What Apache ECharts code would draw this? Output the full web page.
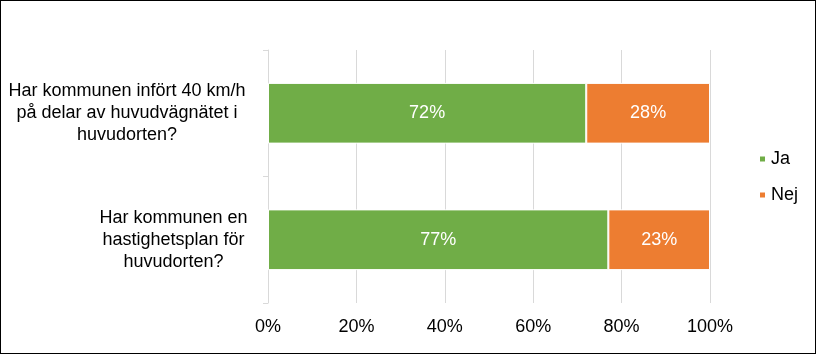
<!DOCTYPE html>
<html>
<head>
<meta charset="utf-8">
<script src="https://cdn.jsdelivr.net/npm/echarts@6/dist/echarts.min.js"></script>
<style>
  html, body { margin: 0; padding: 0; background: #fff; }
  #wrap { position: relative; width: 816px; height: 354px; }
  #chart { width: 816px; height: 354px; }
  #frame { position: absolute; left: 0; top: 0; width: 816px; height: 354px; box-sizing: border-box; border: 1px solid #000; pointer-events: none; }
</style>
</head>
<body>
<div id="wrap">
  <div id="chart"></div>
  <div id="frame"></div>
</div>
<script>
const categories = [
  'Har kommunen infört 40 km/h\npå delar av huvudvägnätet i\nhuvudorten?',
  'Har kommunen en\nhastighetsplan för\nhuvudorten?'
]
const jaValues = [72, 77]
const nejValues = [28, 23]
const seriesNames = ['Ja', 'Nej']
const xTicks = { min: 0, max: 100, interval: 20 }

const font = '"Liberation Sans", Arial, sans-serif'
const chart = echarts.init(document.getElementById('chart'))

function barSeries(name, values, color) {
  return {
    name,
    type: 'bar',
    stack: 'total',
    data: values,
    barWidth: '48%',
    itemStyle: { color, borderColor: '#fff', borderWidth: 1 },
    label: {
      show: true,
      position: 'inside',
      formatter: '{c}%',
      color: '#fff',
      fontFamily: font,
      fontSize: 18,
    },
  }
}

chart.setOption({
  backgroundColor: '#fff',
  animation: false,
  grid: { left: 268, right: 106, top: 50, bottom: 51 },
  legend: {
    orient: 'vertical',
    left: 753,
    top: 145,
    icon: 'rect',
    itemWidth: 7,
    itemHeight: 7,
    itemGap: 18,
    data: seriesNames,
    textStyle: { color: '#000', fontFamily: font, fontSize: 18 },
  },
  xAxis: {
    type: 'value',
    min: xTicks.min,
    max: xTicks.max,
    interval: xTicks.interval,
    axisLine: { show: false },
    axisTick: { show: false },
    splitLine: { lineStyle: { color: '#d9d9d9', width: 1 } },
    axisLabel: {
      formatter: '{value}%',
      color: '#000',
      fontFamily: font,
      fontSize: 18,
      margin: 15,
    },
  },
  yAxis: {
    type: 'category',
    data: categories,
    inverse: true,
    axisLine: { show: true, lineStyle: { color: '#d9d9d9', width: 1 } },
    axisTick: { show: true, length: 5, lineStyle: { color: '#d9d9d9' } },
    axisLabel: {
      align: 'right',
      margin: 18,
      formatter: (value, index) =>
        value.split('\n').map((line) => `{c${index}|${line}}`).join('\n'),
      rich: {
        c0: { width: 246, align: 'center', color: '#000', fontFamily: font, fontSize: 18, lineHeight: 22 },
        c1: { width: 153, align: 'center', color: '#000', fontFamily: font, fontSize: 18, lineHeight: 22 },
      },
    },
  },
  series: [
    barSeries(seriesNames[0], jaValues, '#70ad47'),
    barSeries(seriesNames[1], nejValues, '#ed7d31'),
  ],
})
</script>
</body>
</html>
